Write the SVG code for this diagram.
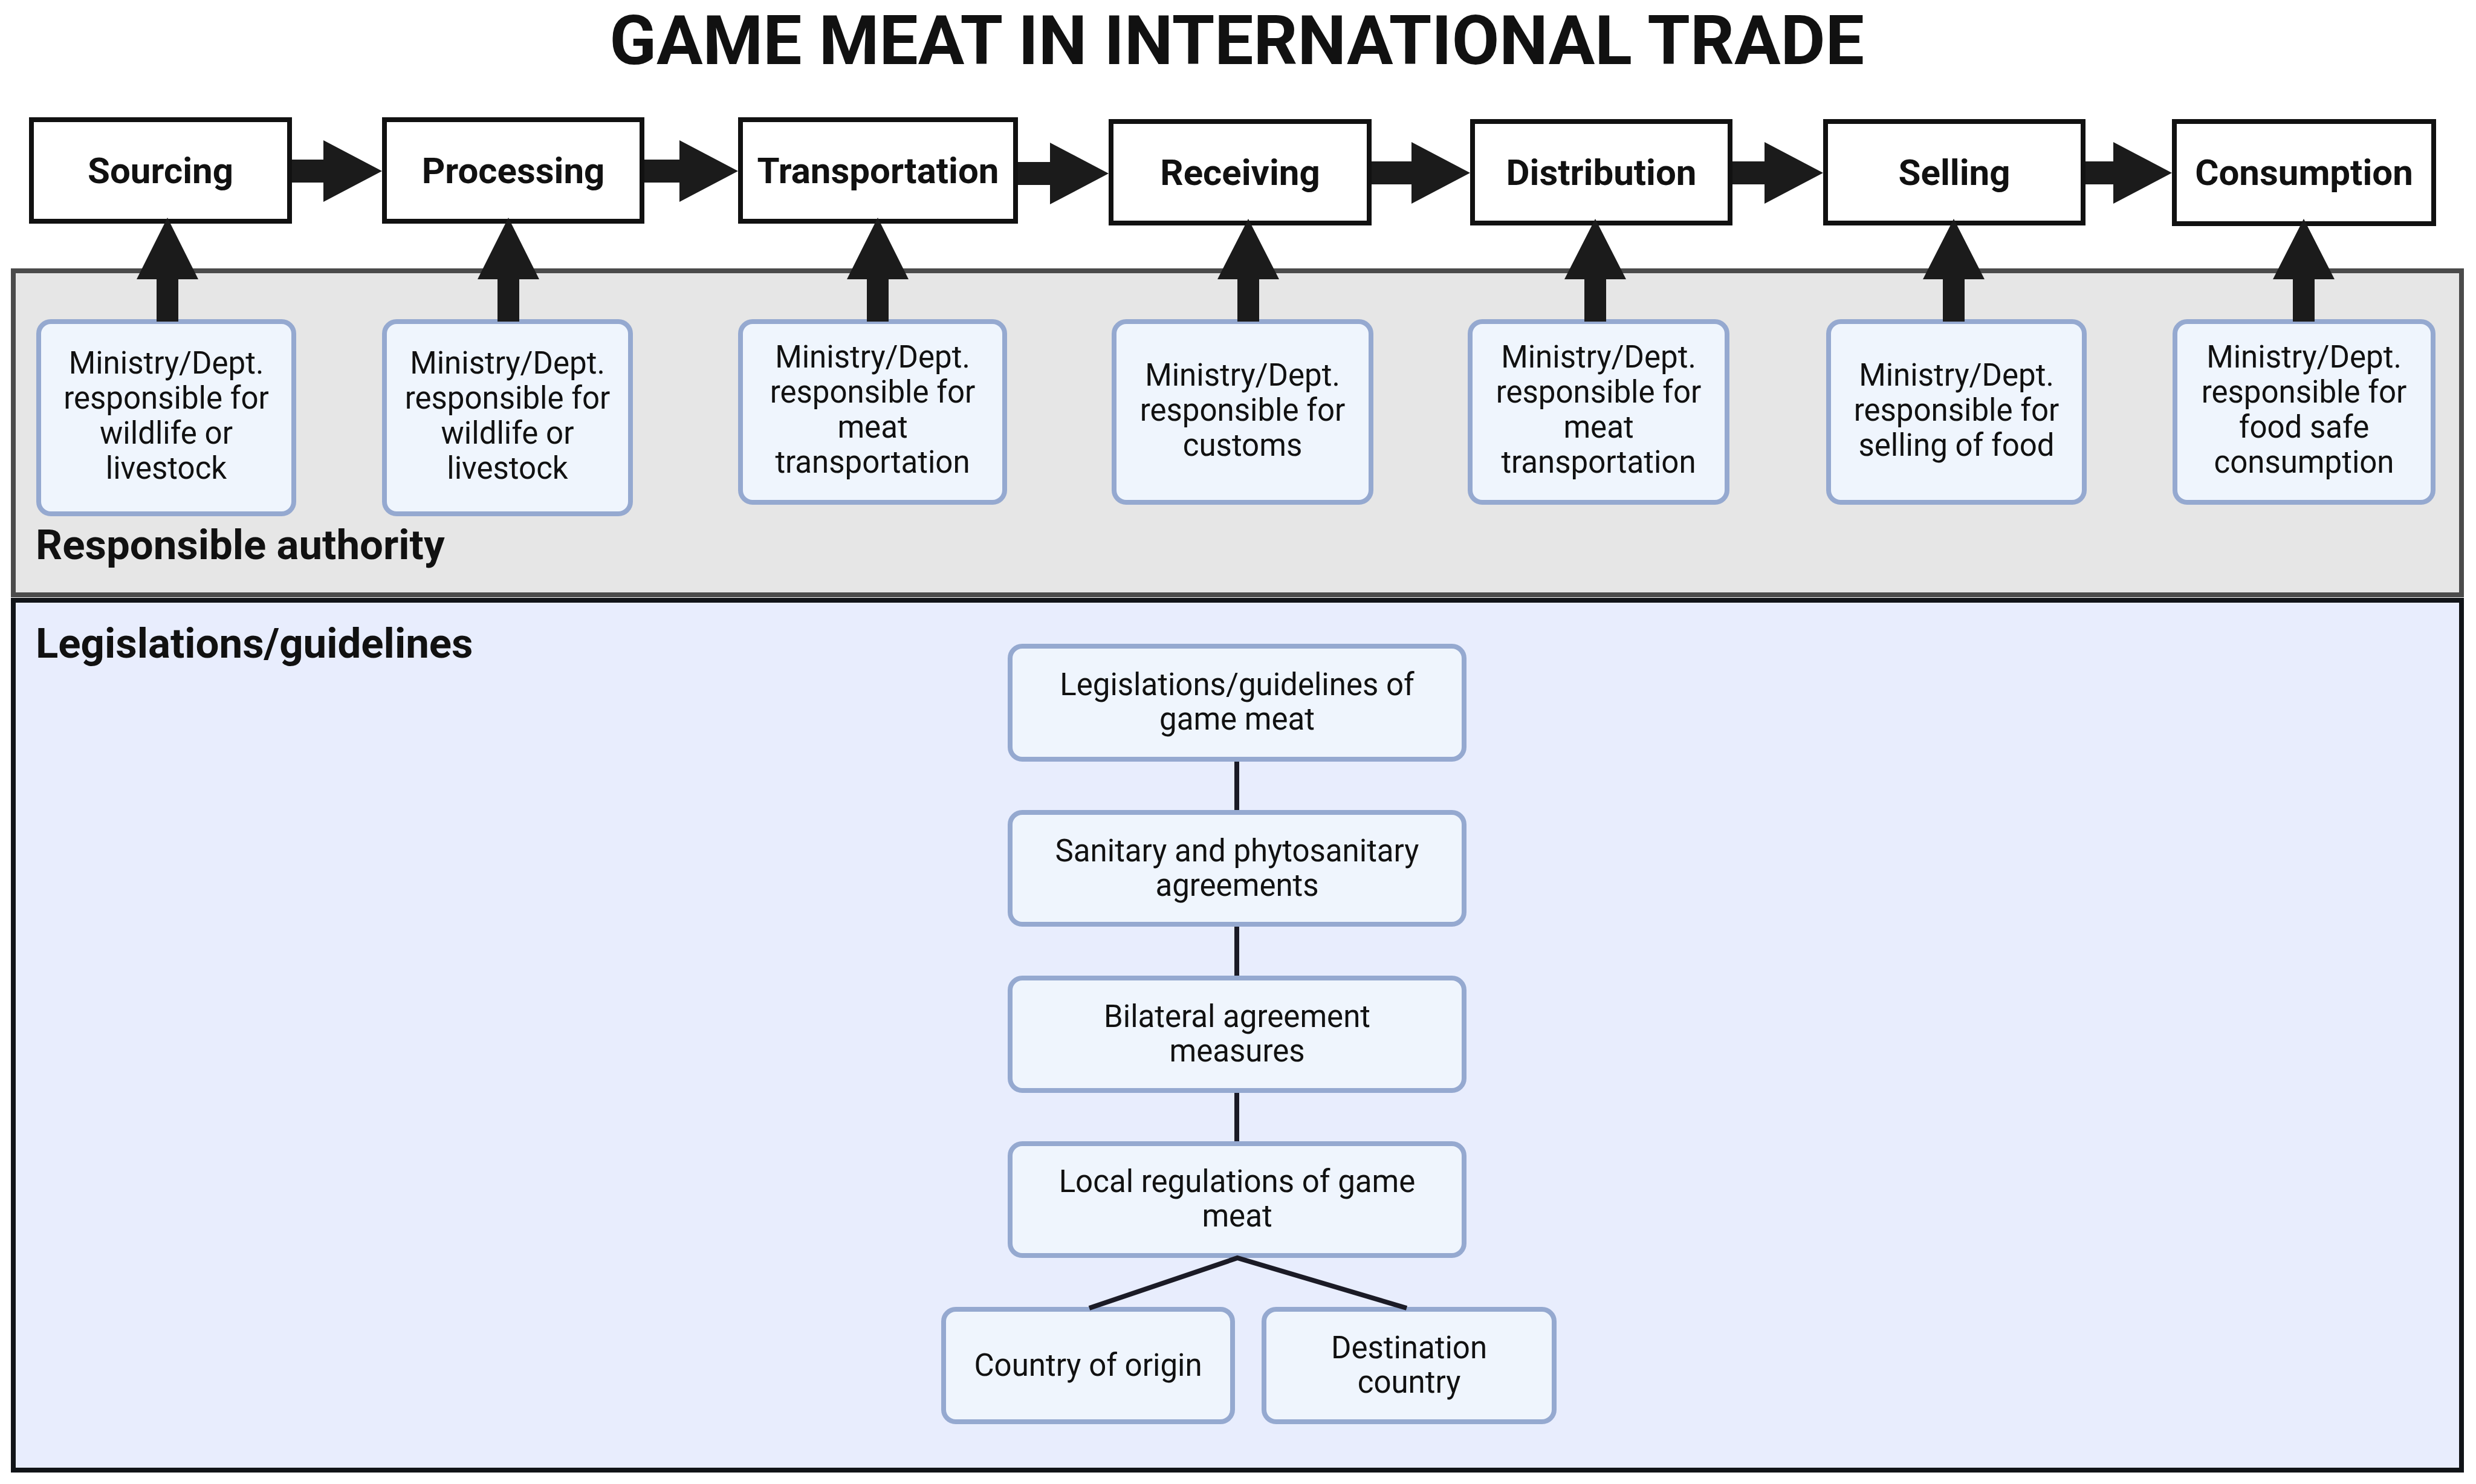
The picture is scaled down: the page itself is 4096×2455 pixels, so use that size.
<svg xmlns="http://www.w3.org/2000/svg" width="4096" height="2455" viewBox="0 0 4096 2455">
<style>
.title{font-family:Roboto,"Liberation Sans",sans-serif;font-weight:700;font-size:114px;fill:#111;text-anchor:middle}
.hdr rect{fill:#fff;stroke:#111;stroke-width:8}
.hdr text{font-family:Roboto,"Liberation Sans",sans-serif;font-weight:700;font-size:60px;fill:#111;text-anchor:middle}
.box rect{fill:#eff5fd;stroke:#95a9d0;stroke-width:8}
.box text{font-family:Roboto,"Liberation Sans",sans-serif;font-size:51px;fill:#111;text-anchor:middle}
.sec{font-family:Roboto,"Liberation Sans",sans-serif;font-weight:700;font-size:69px;fill:#111}
.arrow{fill:#1b1b1b}
.link{stroke:#1b1b26;stroke-width:8;fill:none}
</style>
<rect width="4096" height="2455" fill="#fff"/>
<text class="title" x="2046" y="106">GAME MEAT IN INTERNATIONAL TRADE</text>

<g id="panel-authority">
<rect x="22" y="448" width="4050" height="536" fill="#e6e6e6" stroke="#4b4b4b" stroke-width="8"/>
<text class="sec" x="59" y="925">Responsible authority</text>
</g>
<g id="panel-legislation">
<rect x="22" y="993" width="4050" height="1439" fill="#e8edfd" stroke="#111418" stroke-width="8"/>
<text class="sec" x="59" y="1088">Legislations/guidelines</text>
</g>

<g id="ministry-1" class="box"><rect x="64" y="532" width="422" height="318" rx="20"/>
<text x="275" y="618">Ministry/Dept.</text><text x="275" y="676">responsible for</text><text x="275" y="734">wildlife or</text><text x="275" y="792">livestock</text></g>
<g id="ministry-2" class="box"><rect x="636" y="532" width="407" height="318" rx="20"/>
<text x="839.5" y="618">Ministry/Dept.</text><text x="839.5" y="676">responsible for</text><text x="839.5" y="734">wildlife or</text><text x="839.5" y="792">livestock</text></g>
<g id="ministry-3" class="box"><rect x="1225" y="532" width="437" height="299" rx="20"/>
<text x="1443.5" y="608">Ministry/Dept.</text><text x="1443.5" y="666">responsible for</text><text x="1443.5" y="724">meat</text><text x="1443.5" y="782">transportation</text></g>
<g id="ministry-4" class="box"><rect x="1843" y="532" width="425" height="299" rx="20"/>
<text x="2055.5" y="638">Ministry/Dept.</text><text x="2055.5" y="696">responsible for</text><text x="2055.5" y="754">customs</text></g>
<g id="ministry-5" class="box"><rect x="2432" y="532" width="425" height="299" rx="20"/>
<text x="2644.5" y="608">Ministry/Dept.</text><text x="2644.5" y="666">responsible for</text><text x="2644.5" y="724">meat</text><text x="2644.5" y="782">transportation</text></g>
<g id="ministry-6" class="box"><rect x="3025" y="532" width="423" height="299" rx="20"/>
<text x="3236.5" y="638">Ministry/Dept.</text><text x="3236.5" y="696">responsible for</text><text x="3236.5" y="754">selling of food</text></g>
<g id="ministry-7" class="box"><rect x="3598" y="532" width="427" height="299" rx="20"/>
<text x="3811.5" y="608">Ministry/Dept.</text><text x="3811.5" y="666">responsible for</text><text x="3811.5" y="724">food safe</text><text x="3811.5" y="782">consumption</text></g>

<g id="sourcing" class="hdr"><rect x="52" y="198" width="427" height="168"/><text x="265.5" y="303">Sourcing</text></g>
<g id="processing" class="hdr"><rect x="636" y="198" width="426" height="168"/><text x="849" y="303">Processing</text></g>
<g id="transportation" class="hdr"><rect x="1225" y="198" width="455" height="168"/><text x="1452.5" y="303">Transportation</text></g>
<g id="receiving" class="hdr"><rect x="1838" y="201" width="427" height="168"/><text x="2051.5" y="306">Receiving</text></g>
<g id="distribution" class="hdr"><rect x="2436" y="201" width="426" height="168"/><text x="2649" y="306">Distribution</text></g>
<g id="selling" class="hdr"><rect x="3020" y="201" width="426" height="168"/><text x="3233" y="306">Selling</text></g>
<g id="consumption" class="hdr"><rect x="3597" y="201" width="429" height="169"/><text x="3811.5" y="306">Consumption</text></g>

<g id="leg-1" class="box"><rect x="1671" y="1069" width="751" height="187" rx="20"/>
<text x="2046.5" y="1150">Legislations/guidelines of</text><text x="2046.5" y="1207">game meat</text></g>
<g id="leg-2" class="box"><rect x="1671" y="1344" width="751" height="185" rx="20"/>
<text x="2046.5" y="1425">Sanitary and phytosanitary</text><text x="2046.5" y="1482">agreements</text></g>
<g id="leg-3" class="box"><rect x="1671" y="1618" width="751" height="186" rx="20"/>
<text x="2046.5" y="1699">Bilateral agreement</text><text x="2046.5" y="1756">measures</text></g>
<g id="leg-4" class="box"><rect x="1671" y="1892" width="751" height="185" rx="20"/>
<text x="2046.5" y="1972">Local regulations of game</text><text x="2046.5" y="2029">meat</text></g>
<g id="origin" class="box"><rect x="1561" y="2166" width="478" height="186" rx="20"/>
<text x="1800" y="2276">Country of origin</text></g>
<g id="destination" class="box"><rect x="2091" y="2166" width="480" height="186" rx="20"/>
<text x="2331" y="2247">Destination</text><text x="2331" y="2304">country</text></g>

<g id="connectors">
<polygon class="arrow" points="483,264 535,264 535,232 632,283 535,334 535,302 483,302"/>
<polygon class="arrow" points="1066,264 1124,264 1124,232 1221,283 1124,334 1124,302 1066,302"/>
<polygon class="arrow" points="1684,268 1737,268 1737,236 1834,287 1737,338 1737,306 1684,306"/>
<polygon class="arrow" points="2269,267 2335,267 2335,235 2432,286 2335,337 2335,305 2269,305"/>
<polygon class="arrow" points="2866,267 2919,267 2919,235 3016,286 2919,337 2919,305 2866,305"/>
<polygon class="arrow" points="3450,267 3496,267 3496,235 3593,286 3496,337 3496,305 3450,305"/>

<polygon class="arrow" points="259,532 259,462 226,462 277,360 328,462 295,462 295,532"/>
<polygon class="arrow" points="823,532 823,462 790,462 841,360 892,462 859,462 859,532"/>
<polygon class="arrow" points="1434,532 1434,462 1401,462 1452,360 1503,462 1470,462 1470,532"/>
<polygon class="arrow" points="2047,532 2047,462 2014,462 2065,362 2116,462 2083,462 2083,532"/>
<polygon class="arrow" points="2621,532 2621,462 2588,462 2639,362 2690,462 2657,462 2657,532"/>
<polygon class="arrow" points="3214,532 3214,462 3181,462 3232,362 3283,462 3250,462 3250,532"/>
<polygon class="arrow" points="3793,532 3793,462 3760,462 3811,362 3862,462 3829,462 3829,532"/>

<line class="link" x1="2046" y1="1260" x2="2046" y2="1340"/>
<line class="link" x1="2046" y1="1533" x2="2046" y2="1614"/>
<line class="link" x1="2046" y1="1808" x2="2046" y2="1888"/>
<polyline class="link" points="1802,2164 2047,2081 2327,2164"/>
</g>
</svg>
